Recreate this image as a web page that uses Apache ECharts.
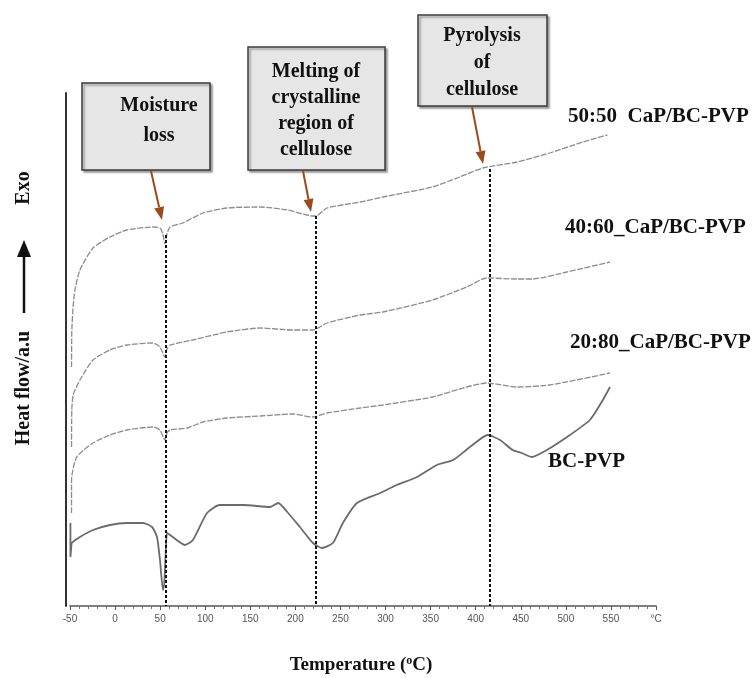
<!DOCTYPE html>
<html>
<head>
<meta charset="utf-8">
<title>DSC</title>
<script src="https://cdn.jsdelivr.net/npm/echarts@6/dist/echarts.min.js"></script>
<style>
  html, body { margin: 0; padding: 0; background: #fff; }
  #chart { width: 753px; height: 678px; }
</style>
</head>
<body>
<div id="chart"></div>
<script>
// temperature (°C) vs heat flow (arbitrary units, curves are offset)
const cap5050 = [[-48.3, 239], [-48, 275], [-46.5, 300], [-44.5, 316], [-39, 336], [-24.5, 358], [-5.6, 369], [13, 376], [42, 379], [49.8, 378], [53, 372], [55.3, 362], [57.5, 372], [61, 379], [75, 383], [97.5, 393], [124, 398], [161, 399], [191, 396], [219.5, 390], [223, 390], [235, 398], [272, 404], [297, 409], [352, 419], [382, 429], [408, 438], [446, 444], [482, 453], [519, 464], [546, 471]]
const cap4060 = [[-48.3, 159], [-48, 196], [-46.5, 211], [-39, 226], [-24.5, 246], [-5.6, 256], [13, 261], [42, 263], [49.8, 259], [55.3, 249], [57.5, 257], [61, 261], [86, 266], [124, 274], [161, 278], [197, 276], [219.5, 276], [235, 283], [272, 291], [297, 294], [352, 306], [390, 319], [412, 328], [446, 327], [463, 327], [501, 334], [549, 344]]
const cap2080 = [[-48.3, 93], [-48.3, 126], [-42.6, 149], [-24.5, 163], [-5.6, 171], [13, 176], [42, 179], [49.8, 176], [55.3, 166], [57.5, 173], [61, 176], [80, 178], [97.5, 184], [124, 188], [161, 190], [197, 192], [219.5, 189], [235, 193], [272, 198], [297, 201], [352, 209], [390, 219], [412, 223], [446, 219], [482, 221], [549, 233]]
const bcPvp = [[-49.5, 83], [-49.5, 49], [-48.5, 60], [-48, 63], [-39, 69], [-24.5, 76], [-5.6, 81], [13, 83], [31, 83], [41, 79], [46.5, 69], [49.8, 46], [53.1, 16], [54.5, 22], [56, 50], [57.6, 73], [61, 71], [77.5, 61], [86.4, 66], [102, 93], [116, 101], [142, 101], [172, 99], [181, 103], [191, 94], [205, 79], [219.5, 63], [229.4, 58], [241.6, 63], [252.7, 83], [268.3, 103], [294, 113], [312.6, 121], [335, 129], [357, 141], [375, 146], [393.6, 159], [413.5, 171], [427, 166], [441, 156], [451, 153], [462, 149], [479, 156], [504.5, 171], [526.6, 186], [541, 206], [549, 219]]

// transition temperatures and where their dashed guide starts
const eventTemps = [56, 223, 416]
const eventTops = [371, 390, 437]

const seriesNames = ['50:50  CaP/BC-PVP', '40:60_CaP/BC-PVP', '20:80_CaP/BC-PVP', 'BC-PVP']
const boxTexts = ['Moisture\nloss', 'Melting of\ncrystalline\nregion of\ncellulose', 'Pyrolysis\nof\ncellulose']

const serif = '"Liberation Serif", "DejaVu Serif", serif'
const brown = '#9b4a1c'

const chart = echarts.init(document.getElementById('chart'))

// small arrow: shaft + triangle head
function arrow (x1, y1, x2, y2, color, w, headLen, headW) {
  const a = Math.atan2(y2 - y1, x2 - x1)
  const bx = x2 - headLen * Math.cos(a)
  const by = y2 - headLen * Math.sin(a)
  const nx = -Math.sin(a) * headW / 2
  const ny = Math.cos(a) * headW / 2
  return [
    { type: 'line', shape: { x1: x1, y1: y1, x2: bx, y2: by }, style: { stroke: color, lineWidth: w } },
    { type: 'polygon', shape: { points: [[x2, y2], [bx + nx, by + ny], [bx - nx, by - ny]] }, style: { fill: color } }
  ]
}

function box (x, y, w, h, text, cx, cy, lh) {
  return [
    {
      type: 'rect',
      shape: { x: x, y: y, width: w, height: h },
      style: { fill: '#e6e6e6', stroke: '#3a3a3a', lineWidth: 1.5, shadowColor: 'rgba(0,0,0,0.35)', shadowOffsetX: 2, shadowOffsetY: 2, shadowBlur: 2 }
    },
    {
      type: 'text',
      x: cx,
      y: cy,
      style: { text: text, font: 'bold 20px ' + serif, lineHeight: lh, fill: '#111', align: 'center', verticalAlign: 'middle' }
    }
  ]
}

const curveColors = ['#8c8c8c', '#8c8c8c', '#8c8c8c', '#6b6b6b']
const curveData = [cap5050, cap4060, cap2080, bcPvp]

const series = curveData.map((d, i) => {
  return {
    name: seriesNames[i],
    type: 'line',
    data: d,
    showSymbol: false,
    smooth: 0.2,
    clip: false,
    lineStyle: {
      color: curveColors[i],
      width: i === 3 ? 1.8 : 1.3,
      type: i === 3 ? 'solid' : [6, 1.5]
    }
  }
})

series[3].markLine = {
  silent: true,
  symbol: ['none', 'none'],
  label: { show: false },
  lineStyle: { color: '#111', type: [3, 2], width: 2 },
  data: eventTemps.map((t, i) => [{ coord: [t, eventTops[i]] }, { coord: [t, 0] }])
}

const graphics = [].concat(
  box(82, 83, 128, 87, boxTexts[0], 159, 121, 30),
  box(248, 47, 137, 123, boxTexts[1], 316, 111, 26),
  box(418, 15, 129, 91, boxTexts[2], 482, 63, 27),
  arrow(151, 171, 162, 220, brown, 2, 13, 10),
  arrow(303, 171, 311, 212, brown, 2, 13, 10),
  arrow(472, 107, 483, 164, brown, 2, 13, 10),
  arrow(24, 313, 24, 240, '#111', 2.5, 17, 14),
  [
    { type: 'text', x: 568, y: 117, style: { text: seriesNames[0], font: 'bold 21px ' + serif, fill: '#111', verticalAlign: 'middle' } },
    { type: 'text', x: 565, y: 228, style: { text: seriesNames[1], font: 'bold 21px ' + serif, fill: '#111', verticalAlign: 'middle' } },
    { type: 'text', x: 570, y: 343, style: { text: seriesNames[2], font: 'bold 21px ' + serif, fill: '#111', verticalAlign: 'middle' } },
    { type: 'text', x: 548, y: 462, style: { text: seriesNames[3], font: 'bold 21px ' + serif, fill: '#111', verticalAlign: 'middle' } },
    { type: 'text', x: 24, y: 188, rotation: Math.PI / 2, style: { text: 'Exo', font: 'bold 20px ' + serif, fill: '#111', align: 'center', verticalAlign: 'middle' } },
    { type: 'text', x: 24, y: 388, rotation: Math.PI / 2, style: { text: 'Heat flow/a.u', font: 'bold 20px ' + serif, fill: '#111', align: 'center', verticalAlign: 'middle' } },
    {
      type: 'text',
      x: 361,
      y: 665,
      style: {
        text: '{a|Temperature (}{s|o}{a|C)}',
        align: 'center',
        verticalAlign: 'middle',
        rich: {
          a: { font: 'bold 19px ' + serif, fill: '#111' },
          s: { font: 'bold 12px ' + serif, fill: '#111', verticalAlign: 'top', padding: [0, 0, 8, 0] }
        }
      }
    }
  ]
)

const option = {
  animation: false,
  backgroundColor: '#fff',
  grid: { left: 70, right: 97, top: 93, bottom: 72 },
  xAxis: {
    type: 'value',
    min: -50,
    max: 600,
    interval: 50,
    splitLine: { show: false },
    axisLine: { onZero: false, lineStyle: { color: '#555', width: 1.5 } },
    axisTick: { length: 4, lineStyle: { color: '#555' } },
    minorTick: { show: true, splitNumber: 5, length: 3, lineStyle: { color: '#777' } },
    axisLabel: {
      fontSize: 10,
      color: '#555',
      margin: 8,
      fontFamily: '"Liberation Sans", sans-serif',
      formatter: v => (v === 600 ? '°C' : v)
    }
  },
  yAxis: {
    type: 'value',
    min: 0,
    max: 513,
    offset: 4,
    splitLine: { show: false },
    axisLine: { show: true, onZero: false, lineStyle: { color: '#333', width: 2 } },
    axisTick: { show: false },
    axisLabel: { show: false }
  },
  series: series,
  graphic: graphics
}

chart.setOption(option)
</script>
</body>
</html>
